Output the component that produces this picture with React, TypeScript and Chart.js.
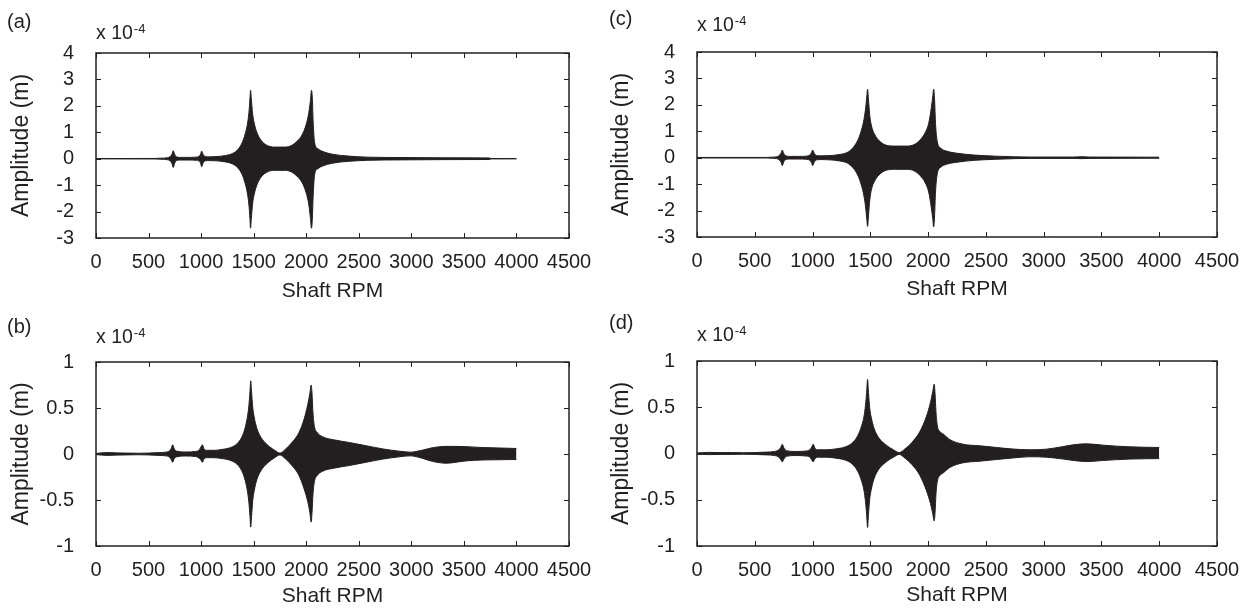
import React, { useEffect, useRef } from "react";
import { Chart, registerables } from "chart.js";

Chart.register(...registerables);

// ---------------- data (amplitude in units of 1e-4 m) ----------------
const rpmA = [0, 560, 620, 680, 705, 722, 735, 748, 765, 800, 880, 950, 980, 995, 1005, 1018, 1040, 1080, 1150, 1230, 1300, 1350, 1390, 1420, 1440, 1455, 1465, 1470, 1478, 1490, 1505, 1530, 1570, 1630, 1700, 1800, 1860, 1910, 1960, 2000, 2025, 2040, 2050, 2058, 2066, 2080, 2110, 2160, 2250, 2400, 2580, 2900, 3300, 3740, 3760, 4000];
const upperA = [0.005, 0.01, 0.02, 0.04, 0.08, 0.17, 0.3, 0.17, 0.07, 0.05, 0.05, 0.06, 0.09, 0.17, 0.29, 0.17, 0.08, 0.07, 0.08, 0.12, 0.2, 0.35, 0.6, 0.95, 1.3, 1.75, 2.3, 2.59, 2.25, 1.7, 1.35, 1.0, 0.7, 0.5, 0.44, 0.44, 0.5, 0.65, 0.9, 1.3, 1.75, 2.2, 2.59, 2.3, 1.4, 0.6, 0.38, 0.27, 0.17, 0.1, 0.06, 0.045, 0.035, 0.03, 0.008, 0.005];
const lowerA = [-0.005, -0.01, -0.02, -0.04, -0.08, -0.18, -0.33, -0.18, -0.07, -0.05, -0.05, -0.06, -0.09, -0.17, -0.3, -0.17, -0.08, -0.07, -0.08, -0.12, -0.2, -0.35, -0.6, -0.95, -1.3, -1.75, -2.3, -2.63, -2.25, -1.7, -1.35, -1.0, -0.7, -0.5, -0.44, -0.44, -0.5, -0.65, -0.9, -1.3, -1.75, -2.25, -2.63, -2.3, -1.4, -0.6, -0.38, -0.27, -0.17, -0.1, -0.06, -0.045, -0.035, -0.03, -0.008, -0.005];

const rpmC = [0, 600, 650, 700, 715, 728, 738, 750, 768, 800, 880, 950, 975, 990, 1001, 1014, 1035, 1080, 1150, 1230, 1300, 1350, 1390, 1420, 1445, 1460, 1470, 1476, 1484, 1495, 1510, 1535, 1575, 1640, 1720, 1820, 1880, 1930, 1975, 2005, 2028, 2040, 2048, 2056, 2064, 2080, 2110, 2160, 2250, 2400, 2580, 2750, 2900, 3250, 3330, 3400, 4000];
const upperC = [0.01, 0.01, 0.02, 0.05, 0.1, 0.18, 0.29, 0.16, 0.07, 0.05, 0.05, 0.06, 0.1, 0.18, 0.29, 0.17, 0.08, 0.07, 0.08, 0.12, 0.2, 0.38, 0.65, 1.0, 1.45, 1.9, 2.35, 2.59, 2.2, 1.6, 1.2, 0.9, 0.65, 0.47, 0.44, 0.44, 0.5, 0.67, 0.95, 1.3, 1.9, 2.3, 2.59, 2.2, 1.3, 0.6, 0.36, 0.25, 0.17, 0.1, 0.06, 0.035, 0.025, 0.025, 0.04, 0.025, 0.02];
const lowerC = [-0.01, -0.01, -0.02, -0.05, -0.1, -0.18, -0.3, -0.16, -0.07, -0.05, -0.05, -0.06, -0.1, -0.18, -0.3, -0.17, -0.08, -0.07, -0.08, -0.12, -0.2, -0.38, -0.65, -1.0, -1.45, -1.9, -2.35, -2.6, -2.2, -1.6, -1.2, -0.9, -0.65, -0.47, -0.44, -0.44, -0.5, -0.67, -0.95, -1.3, -1.9, -2.3, -2.62, -2.2, -1.3, -0.6, -0.36, -0.25, -0.17, -0.1, -0.06, -0.035, -0.025, -0.025, -0.035, -0.025, -0.02];

const rpmB = [0, 100, 200, 300, 400, 500, 600, 660, 700, 715, 730, 745, 770, 850, 950, 985, 1000, 1012, 1030, 1060, 1120, 1200, 1280, 1340, 1390, 1420, 1440, 1455, 1465, 1472, 1480, 1490, 1505, 1530, 1570, 1630, 1700, 1750, 1800, 1860, 1930, 1980, 2015, 2035, 2047, 2055, 2064, 2078, 2100, 2160, 2260, 2410, 2570, 2730, 2890, 2990, 3100, 3200, 3330, 3520, 3680, 3850, 4000];
const upperB = [0.006, 0.015, 0.012, 0.01, 0.008, 0.01, 0.015, 0.02, 0.035, 0.06, 0.1, 0.055, 0.03, 0.022, 0.028, 0.05, 0.08, 0.1, 0.05, 0.04, 0.04, 0.05, 0.07, 0.11, 0.19, 0.29, 0.4, 0.53, 0.68, 0.795, 0.68, 0.52, 0.4, 0.28, 0.18, 0.1, 0.04, 0.01, 0.05, 0.12, 0.23, 0.38, 0.54, 0.66, 0.75, 0.66, 0.45, 0.3, 0.24, 0.185, 0.155, 0.125, 0.09, 0.055, 0.03, 0.02, 0.04, 0.068, 0.083, 0.08, 0.07, 0.065, 0.06];
const lowerB = [-0.006, -0.015, -0.012, -0.01, -0.008, -0.01, -0.015, -0.02, -0.035, -0.06, -0.09, -0.05, -0.03, -0.022, -0.028, -0.05, -0.07, -0.09, -0.05, -0.04, -0.04, -0.05, -0.07, -0.11, -0.19, -0.29, -0.4, -0.53, -0.68, -0.795, -0.68, -0.52, -0.4, -0.28, -0.18, -0.1, -0.04, -0.01, -0.05, -0.12, -0.23, -0.38, -0.52, -0.64, -0.74, -0.64, -0.44, -0.3, -0.24, -0.185, -0.155, -0.125, -0.09, -0.055, -0.03, -0.02, -0.045, -0.08, -0.1, -0.075, -0.065, -0.062, -0.06];

const rpmD = [0, 100, 200, 300, 400, 500, 600, 670, 708, 724, 738, 752, 775, 850, 950, 980, 993, 1005, 1022, 1050, 1120, 1200, 1280, 1340, 1390, 1425, 1445, 1458, 1468, 1476, 1484, 1494, 1508, 1533, 1573, 1633, 1700, 1750, 1800, 1860, 1930, 1985, 2020, 2040, 2053, 2060, 2068, 2080, 2100, 2131, 2189, 2304, 2448, 2593, 2736, 2881, 3025, 3169, 3256, 3371, 3515, 3746, 4000];
const upperD = [0.006, 0.012, 0.01, 0.01, 0.008, 0.01, 0.015, 0.022, 0.04, 0.065, 0.1, 0.06, 0.03, 0.022, 0.028, 0.045, 0.07, 0.1, 0.055, 0.04, 0.04, 0.05, 0.07, 0.11, 0.19, 0.3, 0.4, 0.52, 0.66, 0.8, 0.66, 0.5, 0.39, 0.27, 0.17, 0.095, 0.04, 0.01, 0.05, 0.12, 0.24, 0.4, 0.55, 0.67, 0.75, 0.65, 0.45, 0.3, 0.24, 0.21, 0.15, 0.1, 0.083, 0.065, 0.048, 0.04, 0.047, 0.075, 0.094, 0.105, 0.09, 0.072, 0.065];
const lowerD = [-0.006, -0.012, -0.01, -0.01, -0.008, -0.01, -0.015, -0.022, -0.04, -0.065, -0.09, -0.06, -0.03, -0.022, -0.028, -0.045, -0.07, -0.09, -0.055, -0.04, -0.04, -0.05, -0.07, -0.11, -0.19, -0.3, -0.4, -0.52, -0.66, -0.8, -0.66, -0.5, -0.39, -0.27, -0.17, -0.095, -0.04, -0.01, -0.05, -0.12, -0.24, -0.4, -0.54, -0.65, -0.73, -0.64, -0.44, -0.3, -0.24, -0.21, -0.15, -0.1, -0.083, -0.065, -0.048, -0.035, -0.04, -0.06, -0.075, -0.087, -0.075, -0.06, -0.055];

const xMin = 0, xMax = 4500, xStep = 500;
const yRangeTop = { min: -3, max: 4, step: 1 };
const yRangeBottom = { min: -1, max: 1, step: 0.5 };

const xTitle = "Shaft RPM";
const yTitle = "Amplitude (m)";
const panelLabels = ["(a)", "(b)", "(c)", "(d)"];

// ---------------- styling ----------------
const INK = "#231f20";
const FONT = "'Liberation Sans', Arial, Helvetica, sans-serif";

const framePlugin = {
  id: "frame",
  afterDraw(chart: any) {
    const { ctx, chartArea: a, scales } = chart;
    ctx.save();
    ctx.strokeStyle = INK;
    ctx.lineWidth = 1;
    const T = 5;
    ctx.beginPath();
    scales.x.ticks.forEach((t: any) => {
      const px = Math.round(scales.x.getPixelForValue(t.value)) + 0.5;
      ctx.moveTo(px, a.bottom);
      ctx.lineTo(px, a.bottom - T);
      ctx.moveTo(px, a.top);
      ctx.lineTo(px, a.top + T);
    });
    scales.y.ticks.forEach((t: any) => {
      const py = Math.round(scales.y.getPixelForValue(t.value)) + 0.5;
      ctx.moveTo(a.left, py);
      ctx.lineTo(a.left + T, py);
      ctx.moveTo(a.right, py);
      ctx.lineTo(a.right - T, py);
    });
    ctx.stroke();
    ctx.lineWidth = 1.5;
    ctx.strokeRect(a.left, a.top, a.right - a.left, a.bottom - a.top);
    ctx.restore();
  },
};

type PanelProps = {
  left: number; top: number; w: number; h: number;
  area: { left: number; top: number; right: number; bottom: number };
  xh: number;
  rpm: number[]; upper: number[]; lower: number[];
  yr: { min: number; max: number; step: number };
};

function Panel(p: PanelProps) {
  const ref = useRef<HTMLCanvasElement>(null);
  useEffect(() => {
    if (!ref.current) return;
    const chart = new Chart(ref.current, {
      type: "line",
      data: {
        datasets: [
          {
            data: p.rpm.map((x, i) => ({ x, y: p.upper[i] })),
            borderColor: INK,
            backgroundColor: INK,
            borderWidth: 1,
            pointRadius: 0,
            fill: "+1",
            cubicInterpolationMode: "monotone",
          },
          {
            data: p.rpm.map((x, i) => ({ x, y: p.lower[i] })),
            borderColor: INK,
            backgroundColor: INK,
            borderWidth: 1,
            pointRadius: 0,
            fill: false,
            cubicInterpolationMode: "monotone",
          },
        ],
      },
      options: {
        responsive: false,
        animation: false,
        events: [],
        layout: {
          padding: {
            left: 0,
            top: p.area.top,
            right: p.w - p.area.right,
            bottom: p.h - p.area.bottom - p.xh,
          },
        },
        plugins: { legend: { display: false }, tooltip: { enabled: false } },
        scales: {
          x: {
            type: "linear",
            min: xMin,
            max: xMax,
            grid: { display: false },
            border: { display: false },
            ticks: {
              stepSize: xStep,
              autoSkip: false,
              maxRotation: 0,
              padding: 4,
              color: INK,
              font: { family: FONT, size: 20 },
              callback: (v: any) => String(v),
            },
            title: {
              display: true,
              text: xTitle,
              color: INK,
              font: { family: FONT, size: 21 },
              padding: { top: 0, bottom: 0 },
            },
            afterFit: (s: any) => { s.height = p.xh; },
          },
          y: {
            type: "linear",
            min: p.yr.min,
            max: p.yr.max,
            grid: { display: false },
            border: { display: false },
            ticks: {
              stepSize: p.yr.step,
              autoSkip: false,
              padding: 14,
              color: INK,
              font: { family: FONT, size: 20 },
              callback: (v: any) => String(v),
            },
            title: {
              display: true,
              text: yTitle,
              color: INK,
              font: { family: FONT, size: 23 },
              padding: { top: 8, bottom: 0 },
            },
            afterFit: (s: any) => { s.width = p.area.left; },
          },
        },
      } as any,
      plugins: [framePlugin],
    });
    return () => chart.destroy();
  }, []);
  return (
    <canvas
      ref={ref}
      width={p.w}
      height={p.h}
      style={{ position: "absolute", left: p.left, top: p.top, width: p.w, height: p.h, display: "block" }}
    />
  );
}

function Label({ text, left, top }: { text: string; left: number; top: number }) {
  return (
    <div style={{ position: "absolute", left, top, fontSize: 20, lineHeight: "20px", color: INK, whiteSpace: "nowrap" }}>
      {text}
    </div>
  );
}

function Scale({ left, top }: { left: number; top: number }) {
  return (
    <div style={{ position: "absolute", left, top, fontSize: 19.5, lineHeight: "19.5px", color: INK, whiteSpace: "nowrap" }}>
      x 10
      <span style={{ fontSize: 13, position: "relative", top: -6, marginLeft: 1 }}>-4</span>
    </div>
  );
}

export default function App() {
  return (
    <div
      style={{
        position: "fixed",
        left: 0,
        top: 0,
        width: 1257,
        height: 613,
        background: "#fff",
        fontFamily: FONT,
        overflow: "hidden",
      }}
    >
      <Panel left={0} top={0} w={600} h={306} area={{ left: 96, top: 53, right: 569, bottom: 238 }} xh={66}
        rpm={rpmA} upper={upperA} lower={lowerA} yr={yRangeTop} />
      <Panel left={600} top={0} w={657} h={306} area={{ left: 97, top: 52, right: 617, bottom: 237 }} xh={65}
        rpm={rpmC} upper={upperC} lower={lowerC} yr={yRangeTop} />
      <Panel left={0} top={306} w={600} h={307} area={{ left: 96, top: 56, right: 569, bottom: 240 }} xh={63}
        rpm={rpmB} upper={upperB} lower={lowerB} yr={yRangeBottom} />
      <Panel left={600} top={306} w={657} h={307} area={{ left: 97, top: 55, right: 617, bottom: 240 }} xh={62}
        rpm={rpmD} upper={upperD} lower={lowerD} yr={yRangeBottom} />

      <Label text={panelLabels[0]} left={7} top={11} />
      <Label text={panelLabels[2]} left={609} top={8} />
      <Label text={panelLabels[1]} left={7} top={316} />
      <Label text={panelLabels[3]} left={609} top={312} />

      <Scale left={96} top={23} />
      <Scale left={697} top={15} />
      <Scale left={96} top={327} />
      <Scale left={697} top={325} />
    </div>
  );
}
